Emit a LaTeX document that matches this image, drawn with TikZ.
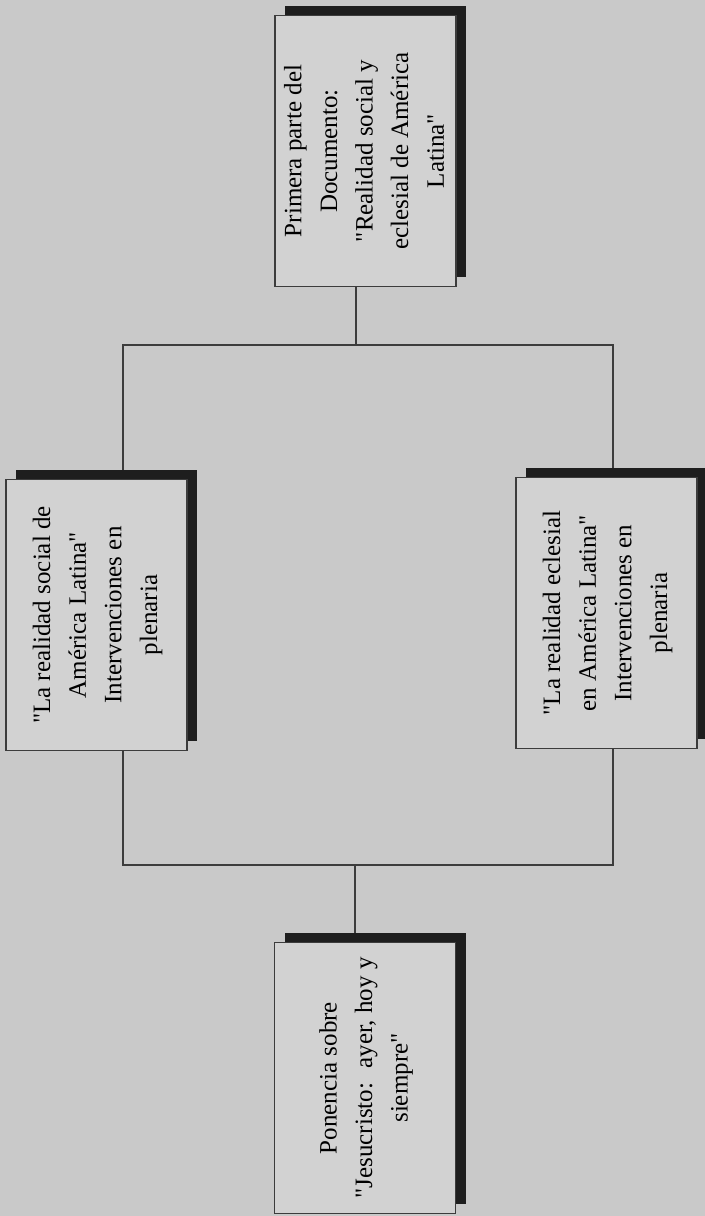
\documentclass[tikz,border=0pt]{standalone}
\usepackage{fontspec}
\setmainfont{Liberation Serif}[Ligatures=TeXOff]
\usetikzlibrary{shadows,backgrounds}

\definecolor{fondo}{RGB}{201,201,201}
\definecolor{papel}{RGB}{210,210,210}
\definecolor{trazo}{RGB}{60,60,60}
\definecolor{sombra}{RGB}{30,30,30}

\newcommand{\girado}[1]{\rotatebox{90}{\begin{tabular}{@{}c@{}}#1\end{tabular}}}

\tikzset{
  caja/.style={draw=trazo, line width=0.7pt, fill=papel,
    minimum width=90.5pt, minimum height=135.5pt, inner sep=0pt,
    font=\fontsize{12.5}{17.8}\selectfont,
    general shadow={fill=sombra, shadow xshift=5pt, shadow yshift=5pt}},
  linea/.style={draw=trazo, line width=0.7pt}
}

\begin{document}
\begin{tikzpicture}[x=0.5pt, y=-0.5pt]

  \useasboundingbox (0,0) rectangle (705,1216);

  \node[caja] (prim) at (365.5,151) {\girado{Primera parte del\\Documento:\\"Realidad social y\\eclesial de América\\Latina"}};
  \node[caja] (soc) at (96.5,615) {\girado{"La realidad social de\\América Latina"\\Intervenciones en\\plenaria}};
  \node[caja] (ecl) at (606.5,613) {\girado{"La realidad eclesial\\en América Latina"\\Intervenciones en\\plenaria}};
  \node[caja] (pon) at (365,1078) {\girado{Ponencia sobre\\"Jesucristo:~ ayer, hoy y\\siempre"}};

  \coordinate (no) at (123,345);
  \coordinate (ne) at (613,345);
  \coordinate (so) at (123,865);
  \coordinate (se) at (613,865);
  \coordinate (cs) at (356,345);
  \coordinate (ci) at (355,865);

  \begin{scope}[on background layer]
    \fill[fondo] (0,0) rectangle (705,1216);
    \draw[linea] (cs |- prim.south) -- (cs);
    \draw[linea] (no |- soc.north) -- (no) -- (ne) -- (ne |- ecl.north);
    \draw[linea] (so |- soc.south) -- (so) -- (se) -- (se |- ecl.south);
    \draw[linea] (ci) -- (ci |- pon.north);
  \end{scope}
\end{tikzpicture}
\end{document}
